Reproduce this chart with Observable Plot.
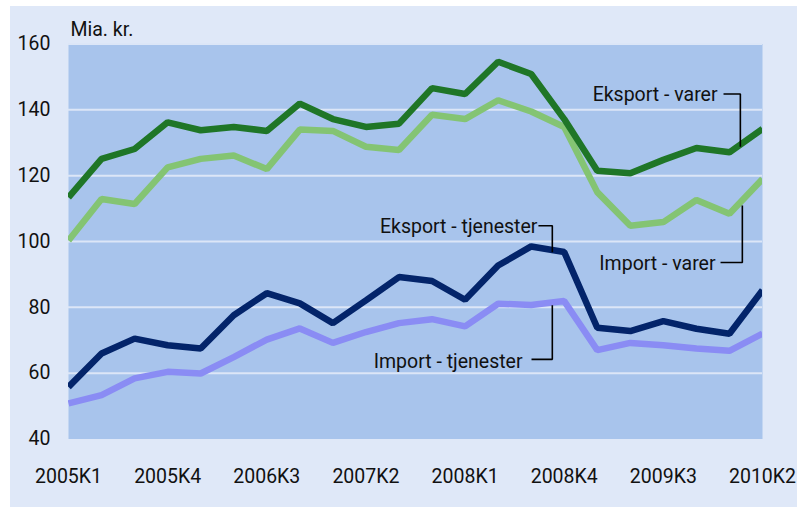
<!DOCTYPE html>
<html>
<head>
<meta charset="utf-8">
<script src="https://cdn.jsdelivr.net/npm/d3@7"></script>
<script src="https://cdn.jsdelivr.net/npm/@observablehq/plot@0.6"></script>
<style>
  html, body { margin: 0; padding: 0; background: #ffffff; }
  #panel { position: absolute; left: 10px; top: 6px; width: 787px; height: 501px; background: #dfe8f8; }
  #panel svg { display: block; }
</style>
</head>
<body>
<div id="panel"></div>
<script>
const quarters = ["2005K1","2005K2","2005K3","2005K4","2006K1","2006K2","2006K3","2006K4",
  "2007K1","2007K2","2007K3","2007K4","2008K1","2008K2","2008K3","2008K4",
  "2009K1","2009K2","2009K3","2009K4","2010K1","2010K2"];
const eksportVarer = [113.4,125.1,128.1,136.2,133.8,134.8,133.6,141.9,137.2,134.8,135.8,146.6,144.8,154.6,150.9,137.2,121.5,120.7,124.8,128.4,127.1,134.2];
const importVarer = [100.3,112.9,111.4,122.5,125.1,126.1,122.0,134.0,133.6,128.8,127.8,138.5,137.2,142.9,139.5,134.8,115.0,104.8,105.9,112.6,108.4,119.0];
const eksportTjenester = [55.8,66.0,70.5,68.5,67.5,77.6,84.3,81.2,75.2,82.1,89.2,88.0,82.3,92.7,98.5,96.8,73.8,72.8,75.8,73.5,72.0,85.2];
const importTjenester = [50.8,53.3,58.4,60.4,59.9,64.9,70.2,73.6,69.2,72.5,75.2,76.4,74.2,81.1,80.7,81.9,67.0,69.2,68.5,67.5,66.8,72.0];
const yTicks = [40,60,80,100,120,140,160];
const xTickIdx = [0,3,6,9,12,15,18,21];
const gridValues = [60,80,100,120,140,160];

const seriesNames = ["Import - varer","Eksport - varer","Import - tjenester","Eksport - tjenester"];
const seriesValues = [importVarer, eksportVarer, importTjenester, eksportTjenester];
const seriesColors = ["#84c473","#1f7627","#8a8cf4","#03246a"];

const rows = [];
seriesNames.forEach((name, s) => seriesValues[s].forEach((v, i) => rows.push({series: name, i, v})));

// annotation label positions (in data units: quarter index, value)
const labels = [
  {text: "Eksport - varer", i: 19.64, v: 144.5},
  {text: "Import - varer", i: 19.58, v: 93.3},
  {text: "Eksport - tjenester", i: 14.19, v: 104.5},
  {text: "Import - tjenester", i: 13.74, v: 63.6}
];
const leaderPts = [
  [[19.82,144.8],[20.33,144.8],[20.33,128.8]],
  [[19.73,93.6],[20.39,93.6],[20.39,110.9]],
  [[14.22,104.8],[14.64,104.8],[14.64,96.7]],
  [[14.01,64.2],[14.64,64.2],[14.64,80.6]]
];
const leaders = [];
leaderPts.forEach((pts, k) => pts.forEach(([i, v]) => leaders.push({k, i, v})));

const FS = 19.5;
const chart = Plot.plot({
  width: 787,
  height: 501,
  marginLeft: 58,
  marginRight: 35,
  marginTop: 37.5,
  marginBottom: 68.5,
  style: {fontFamily: "Roboto, 'Liberation Sans', Arial, sans-serif", fontSize: FS + "px", color: "#111", background: "transparent"},
  x: {domain: [0, 21]},
  y: {domain: [40, 160]},
  color: {domain: seriesNames, range: seriesColors},
  marks: [
    Plot.frame({fill: "#a8c4ec", stroke: null}),
    Plot.ruleY(gridValues, {stroke: "#dce6f7", strokeWidth: 2}),
    Plot.axisY({ticks: yTicks, tickSize: 0, tickPadding: 18, label: null, fontSize: FS}),
    Plot.axisX({ticks: xTickIdx, tickFormat: i => quarters[i], tickSize: 0, tickPadding: 30, label: null, fontSize: FS}),
    Plot.line(rows, {x: "i", y: "v", z: "series", stroke: "series", strokeWidth: 6.5, strokeLinejoin: "miter", strokeLinecap: "butt", clip: true}),
    Plot.line(leaders, {x: "i", y: "v", z: "k", stroke: "#000", strokeWidth: 1.6, strokeLinejoin: "miter", strokeLinecap: "butt"}),
    Plot.text(labels, {x: "i", y: "v", text: "text", textAnchor: "end", lineAnchor: "middle", fontSize: FS, fill: "#111"}),
    Plot.text(["Mia. kr."], {frameAnchor: "top-left", text: d => d, textAnchor: "start", lineAnchor: "bottom", dx: 2, dy: -8, fontSize: FS, fill: "#111"})
  ]
});
document.getElementById("panel").appendChild(chart);
</script>
</body>
</html>
